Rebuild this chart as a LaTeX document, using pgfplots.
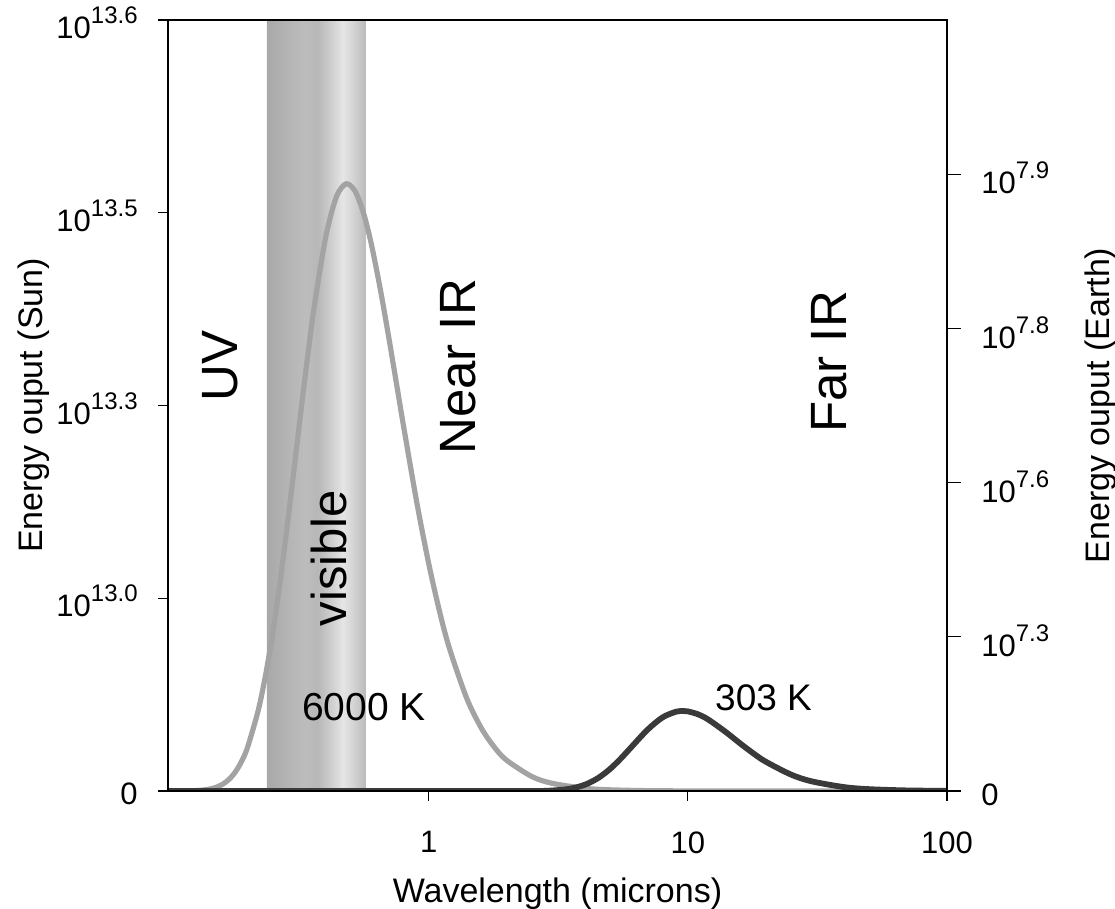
\documentclass[border=0pt]{standalone}
\usepackage{pgfplots}
\pgfplotsset{compat=1.18}
\usepackage{fontspec}
\setmainfont{Liberation Sans}
\definecolor{sun}{HTML}{A3A3A3}
\definecolor{earth}{HTML}{3A3A3A}
\pgfdeclarehorizontalshading{visband}{100bp}{gray(0bp)=(0.66); gray(25bp)=(0.66); gray(34bp)=(0.70); gray(44bp)=(0.74); gray(50.8bp)=(0.72); gray(56.8bp)=(0.80); gray(63.4bp)=(0.90); gray(67.9bp)=(0.84); gray(75bp)=(0.73); gray(100bp)=(0.73)}
\newcommand{\tl}[1]{10\raisebox{7.5pt}{\fontsize{12}{12}\selectfont #1}}
\begin{document}
\begin{tikzpicture}
\path[use as bounding box] (-84pt,-59pt) rectangle (473.5pt,395.5pt);
\begin{axis}[
  at={(0,0)}, anchor=south west,
  scale only axis, width=389.5pt, height=385.5pt,
  xmode=log, xmin=0.0985, xmax=100,
  ymin=0, ymax=4,
  xtick={1,10,100}, xticklabels={1,10,100},
  xminorticks=false,
  ytick={0,1,2,3,4},
  yticklabels={0,\tl{13.0},\tl{13.3},\tl{13.5},\tl{13.6}},
  xtick pos=bottom, ytick pos=left,
  tick align=outside, major tick length=5pt,
  tick style={black, line width=0.6pt},
  axis line style={black, line width=0.8pt},
  ticklabel style={font=\fontsize{15.5}{18}\selectfont},
  yticklabel style={anchor=east, inner sep=0pt, xshift=-10pt, yshift=-1.5pt},
  xticklabel style={anchor=north, inner sep=0pt, yshift=-15pt},
  xlabel={Wavelength (microns)}, ylabel={Energy ouput (Sun)},
  label style={font=\fontsize{17}{20}\selectfont},
  xlabel style={at={(axis description cs:0.5,-0.144)}, anchor=base},
  ylabel style={at={(axis description cs:-0.1617,0.5)}, anchor=base},
  axis on top,
]
\addplot[draw=none, shading=visband] coordinates {(0.237,0) (0.237,4) (0.571,4) (0.571,0)} -- cycle;
\addplot[sun, line width=2.6pt, smooth] coordinates {
(0.0985,0) (0.11,0.0002) (0.12,0.0010) (0.13,0.0031) (0.14,0.0080) (0.15,0.0177)
(0.16,0.0348) (0.17,0.0621) (0.18,0.1021) (0.19,0.1571) (0.20,0.2285) (0.22,0.4221)
(0.235,0.6086) (0.25,0.8237) (0.265,1.0592) (0.28,1.3068) (0.30,1.638) (0.33,2.104)
(0.36,2.498) (0.40,2.873) (0.44,3.083) (0.48,3.150) (0.52,3.111) (0.56,2.998)
(0.60,2.838) (0.65,2.603) (0.70,2.357) (0.75,2.116) (0.80,1.889) (0.90,1.493)
(1.0,1.178) (1.1,0.9324) (1.2,0.7425) (1.4,0.482) (1.6,0.3232) (1.8,0.2235)
(2.0,0.1589) (2.5,0.0749) (3.0,0.0396) (4.0,0.0140) (5.0,0.0061) (7.0,0.0017)
(10,0.0005) (20,0) (100,0)};
\addplot[earth, line width=2.9pt, smooth] coordinates {
(0.0985,0) (1,0) (2.5,0) (3.0,0.0026) (3.5,0.0115) (4.0,0.0323) (4.5,0.0669)
(5.0,0.1135) (5.5,0.1672) (6.0,0.2224) (7.0,0.3189) (8.0,0.3825) (9.0,0.4113)
(9.6,0.4150) (10,0.4131) (11,0.3968) (12,0.3702) (14,0.3060) (16,0.2442)
(18,0.1926) (20,0.1516) (25,0.0852) (30,0.0503) (40,0.0203) (50,0.0095)
(70,0.0029) (100,0.0008)};
\node[rotate=90, font=\fontsize{25.5}{30}\selectfont] at (axis cs:0.1563,2.205) {UV};
\node[rotate=90, font=\fontsize{24.5}{30}\selectfont] at (axis cs:0.4133,1.209) {visible};
\node[rotate=90, font=\fontsize{25.5}{30}\selectfont] at (axis cs:1.2935,2.2) {Near IR};
\node[rotate=90, font=\fontsize{25.5}{30}\selectfont] at (axis cs:35.2,2.226) {Far IR};
\node[font=\fontsize{19.5}{22}\selectfont] at (axis cs:0.5613,0.433) {6000 K};
\node[font=\fontsize{18.5}{22}\selectfont] at (axis cs:19.59,0.4825) {303 K};
\end{axis}
\begin{axis}[
  at={(0,0)}, anchor=south west,
  scale only axis, width=389.5pt, height=385.5pt,
  xmode=log, xmin=0.0985, xmax=100,
  ymin=0, ymax=4,
  axis y line*=right, axis x line=none,
  ytick={0,0.8,1.6,2.4,3.2},
  yticklabels={0,\tl{7.3},\tl{7.6},\tl{7.8},\tl{7.9}},
  tick align=outside, major tick length=7pt,
  tick style={black, line width=0.6pt},
  axis line style={black, line width=0.8pt},
  ticklabel style={font=\fontsize{15.5}{18}\selectfont},
  yticklabel style={anchor=west, inner sep=0pt, xshift=10pt, yshift=-2pt},
  ylabel={Energy ouput (Earth)},
  label style={font=\fontsize{17}{20}\selectfont},
  ylabel style={at={(axis description cs:1.2092,0.5)}, anchor=base},
]
\addplot[draw=none] coordinates {(1,0)};
\end{axis}
\end{tikzpicture}
\end{document}
